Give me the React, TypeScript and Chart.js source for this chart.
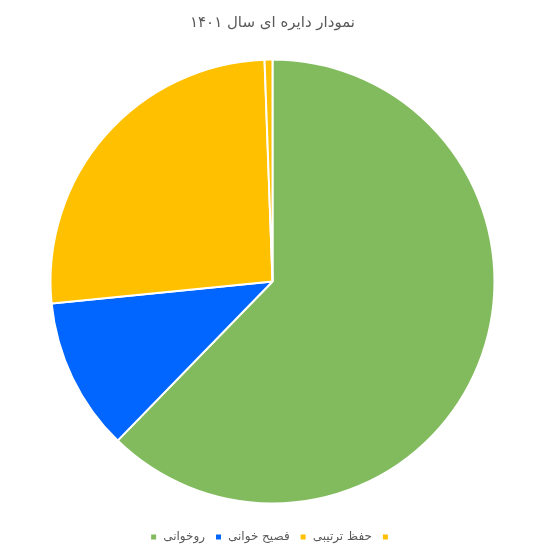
import { useEffect, useRef } from "react";
import Chart from "chart.js/auto";

const categories = ["روخوانی", "فصیح خوانی", "حفظ ترتیبی", ""];
const values = [218, 39, 91, 2];
const colors = ["#82BB5E", "#0066FF", "#FFC000", "#FFC000"];
const title = "نمودار دایره ای سال ۱۴۰۱";

export default function App() {
  const canvasRef = useRef<HTMLCanvasElement | null>(null);
  const chartRef = useRef<Chart | null>(null);

  useEffect(() => {
    document.body.style.margin = "0";
    if (!canvasRef.current) return;
    const ctx = canvasRef.current.getContext("2d");
    if (!ctx) return;

    if (chartRef.current) chartRef.current.destroy();

    chartRef.current = new Chart(ctx, {
      type: "pie",
      data: {
        labels: categories,
        datasets: [
          {
            data: values,
            backgroundColor: colors,
            borderColor: "#ffffff",
            borderWidth: 2,
            radius: 222,
          },
        ],
      },
      options: {
        animation: false,
        responsive: true,
        maintainAspectRatio: false,
        layout: { padding: { left: 0, right: 9, top: 0, bottom: 2 } },
        plugins: {
          title: {
            display: true,
            text: title,
            color: "#595959",
            font: { family: "DejaVu Sans", size: 15, weight: "normal" },
            padding: { top: 14, bottom: 10 },
          },
          legend: {
            position: "bottom",
            labels: {
              boxWidth: 7,
              boxHeight: 7,
              padding: 10,
              color: "#595959",
              font: { family: "DejaVu Sans", size: 12 },
            },
          },
          tooltip: { enabled: false },
        },
      },
    });

    return () => chartRef.current?.destroy();
  }, []);

  return (
    <div style={{ width: "554px", height: "555px", background: "#ffffff" }}>
      <canvas ref={canvasRef}></canvas>
    </div>
  );
}
